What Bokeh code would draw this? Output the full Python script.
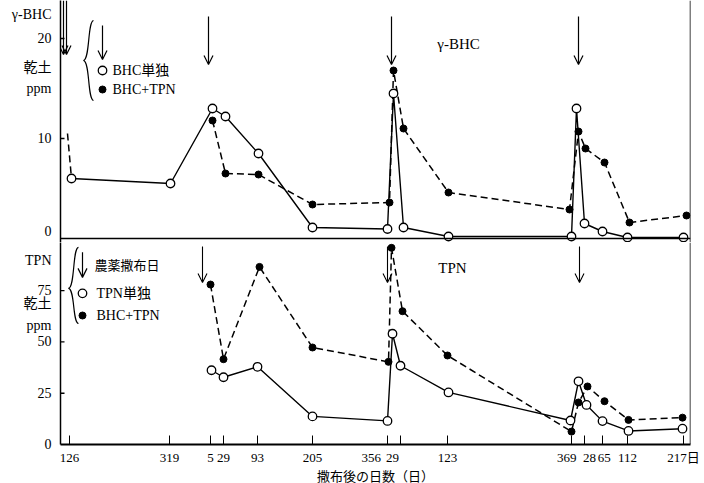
from bokeh.plotting import figure
from bokeh.models import Range1d, FixedTicker, Span, Label, Arrow, OpenHead
from bokeh.layouts import column
from bokeh.embed import file_html
from bokeh.resources import INLINE

# ---------------- data ----------------
# broken time axis: sampling positions (axis units) and their labels (days after application)
tick_pos = [9, 109, 150, 163, 197, 252, 327, 340, 387, 511, 524, 542, 567, 623]
tick_labels = ["126", "319", "5", "29", "93", "205", "356", "29", "123",
               "369", "28", "65", "112", "217日"]
# application days (arrows), axis units
app_top = [3, 6, 148, 331, 518]
app_bottom = [142, 327, 519]

# y ticks
bhc_ticks = [10, 20]
tpn_ticks = [0, 25, 50, 75]

# gamma-BHC (ppm, dry soil)
bhc_alone_x = [11, 110, 152, 165, 198, 252, 327, 333, 343, 388, 511, 516, 524, 542, 567, 623]
bhc_alone_y = [6.0, 5.5, 13.0, 12.2, 8.5, 1.1, 0.95, 14.5, 1.1, 0.2, 0.2, 13.0, 1.5, 0.7, 0.1, 0.1]
bhc_mix_lead_x = [7, 11]
bhc_mix_lead_y = [10.5, 6.0]
bhc_mix_x = [152, 165, 198, 252, 329, 333, 343, 388, 509, 518, 525, 544, 569, 626]
bhc_mix_y = [11.8, 6.5, 6.4, 3.4, 3.6, 16.8, 11.0, 4.6, 2.9, 10.7, 9.0, 7.6, 1.6, 2.3]

# TPN (ppm, dry soil)
tpn_alone_x = [151, 163, 197, 252, 327, 332, 340, 388, 510, 518, 526, 542, 568, 622]
tpn_alone_y = [36.2, 32.8, 37.9, 13.7, 11.5, 54.0, 38.4, 25.4, 11.7, 30.8, 19.3, 11.4, 6.6, 7.7]
tpn_mix_x = [150, 163, 199, 252, 328, 331, 342, 387, 511, 518, 527, 544, 568, 622]
tpn_mix_y = [78.0, 41.6, 86.6, 47.3, 40.3, 95.9, 65.0, 43.4, 6.3, 20.5, 28.3, 21.1, 12.0, 13.1]

# ---------------- style ----------------
FONT = "Liberation Serif, Noto Sans CJK JP"
DASH = "7 4"
NB = "\u00a0"
label_pad_right = {6: 10, 7: 5, 9: 3}   # shift some crowded labels to the left
label_pad_left = {10: 3, 11: 1}          # ... or to the right


def base(frame_h, yr, ticks, extra, xaxis=True):
    kw = dict(frame_width=630, frame_height=frame_h, x_range=Range1d(0, 630), y_range=yr,
              output_backend="svg", toolbar_location=None,
              min_border_left=60, min_border_right=12, min_border_top=0, min_border_bottom=0)
    if not xaxis:
        kw["x_axis_location"] = None
    p = figure(**kw)
    p.outline_line_color = None
    p.grid.visible = False
    p.background_fill_color = "white"
    p.border_fill_color = "white"
    ya = p.yaxis[0]
    ya.axis_line_width = 1.5
    ya.axis_line_color = "black"
    ya.major_tick_line_color = None
    ya.minor_tick_line_color = None
    # numeric ticks plus the axis captions (unit / substance) as extra labels
    ya.ticker = FixedTicker(ticks=list(ticks) + list(extra.keys()))
    ya.major_label_overrides = dict(extra)
    ya.major_label_text_font = FONT
    ya.major_label_text_font_size = "14px"
    ya.major_label_text_color = "black"
    ya.major_label_standoff = 3
    # inward tick marks
    num = [t for t in ticks if t != 0]
    p.segment(x0=[0] * len(num), y0=num, x1=[4] * len(num), y1=num,
              line_color="black", line_width=1.3)
    p.add_layout(Span(location=630, dimension="height", line_color="black", line_width=1.5))
    return p


def lab(p, x, y, text, size="14px", align="left", baseline="middle"):
    p.add_layout(Label(x=x, y=y, text=text, text_font=FONT, text_font_size=size,
                       text_align=align, text_baseline=baseline, text_color="black"))


def arrow(p, x, y0, y1, lw=1.2):
    p.add_layout(Arrow(end=OpenHead(size=9, line_width=lw, line_color="black"),
                       x_start=x, y_start=y0, x_end=x, y_end=y1,
                       line_width=lw, line_color="black"))


def series(p, xs, ys, dashed):
    p.line(xs, ys, line_color="black", line_width=1.5 if dashed else 1.4,
           line_dash=DASH if dashed else "solid")


def marks(p, xs, ys, filled):
    if filled:
        p.scatter(xs, ys, marker="circle", size=7, fill_color="black", line_color="black")
    else:
        p.scatter(xs, ys, marker="circle", size=8.5, fill_color="white",
                  line_color="black", line_width=1.3)


# ---------------- top panel: gamma-BHC ----------------
top = base(242, Range1d(-0.4, 23.8), bhc_ticks,
           {0.7: "0", 22.4: "γ-BHC", 17.1: "乾土", 15.0: "ppm"}, xaxis=False)
top.add_layout(Span(location=0, dimension="width", line_color="black", line_width=1.5))

series(top, bhc_mix_lead_x, bhc_mix_lead_y, True)
series(top, bhc_mix_x, bhc_mix_y, True)
series(top, bhc_alone_x, bhc_alone_y, False)
marks(top, bhc_mix_x, bhc_mix_y, True)
marks(top, bhc_alone_x, bhc_alone_y, False)

arrow(top, app_top[0], 23.8, 18.4)
arrow(top, app_top[1], 23.8, 18.4)
for ax in app_top[2:]:
    arrow(top, ax, 22.2, 17.4)

lab(top, 398, 19.5, "γ-BHC", "15px", "center")

# legend (top)
top.bezier(x0=[33, 23], y0=[21.8, 17.8], x1=[23, 33], y1=[17.8, 13.8],
           cx0=[27, 29.5], cy0=[21.7, 17.7], cx1=[29.5, 27], cy1=[17.9, 13.9],
           line_color="black", line_width=1.2)
arrow(top, 42, 21.3, 17.9)
marks(top, [42], [16.8], False)
marks(top, [42], [14.9], True)
lab(top, 52, 16.8, "BHC単独", "14px")
lab(top, 52, 14.9, "BHC+TPN", "14px")

# ---------------- bottom panel: TPN ----------------
bot = base(202, Range1d(0, 98.5), tpn_ticks, {89.8: "TPN", 68.8: "乾土", 58.0: "ppm"})
xa = bot.xaxis[0]
xa.ticker = FixedTicker(ticks=tick_pos)
ov = {}
for i, (pos, t) in enumerate(zip(tick_pos, tick_labels)):
    ov[pos] = NB * label_pad_left.get(i, 0) + t + NB * label_pad_right.get(i, 0)
xa.major_label_overrides = ov
xa.axis_line_width = 2
xa.axis_line_color = "black"
xa.major_tick_line_color = "black"
xa.major_tick_in = 9
xa.major_tick_out = 0
xa.minor_tick_line_color = None
xa.major_label_text_font = FONT
xa.major_label_text_font_size = "13px"
xa.major_label_text_color = "black"
xa.major_label_standoff = 5
xa.axis_label = "撒布後の日数（日）"
xa.axis_label_text_font = FONT
xa.axis_label_text_font_style = "normal"
xa.axis_label_text_font_size = "13px"
xa.axis_label_text_color = "black"
xa.axis_label_standoff = 1

series(bot, tpn_mix_x, tpn_mix_y, True)
series(bot, tpn_alone_x, tpn_alone_y, False)
marks(bot, tpn_mix_x, tpn_mix_y, True)
marks(bot, tpn_alone_x, tpn_alone_y, False)

for ax in app_bottom:
    arrow(bot, ax, 96.5, 79.0, 1.1)

lab(bot, 392, 85.9, "TPN", "15px", "center")

# legend (bottom)
bot.bezier(x0=[18, 8], y0=[96.1, 76.1], x1=[8, 18], y1=[76.1, 59.0],
           cx0=[12, 14.5], cy0=[95.8, 75.6], cx1=[14.5, 12], cy1=[76.6, 59.3],
           line_color="black", line_width=1.2)
arrow(bot, 22, 93.7, 81.5)
lab(bot, 34, 87.3, "農薬撒布日", "13px")
marks(bot, [22], [73.7], False)
marks(bot, [22], [62.9], True)
lab(bot, 36, 73.7, "TPN単独", "14px")
lab(bot, 36, 62.9, "BHC+TPN", "14px")

layout = column(top, bot, spacing=0)
open("out.html", "w").write(file_html(layout, INLINE))
